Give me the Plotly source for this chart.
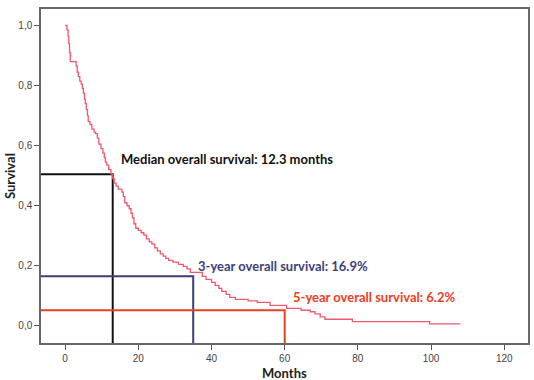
import plotly.graph_objects as go

# Kaplan-Meier step curve
months = [0, 0.5, 0.8, 1.0, 1.2, 1.4, 3.0, 3.3, 3.6, 4.0, 4.4, 4.7, 5.0, 5.3, 5.5, 5.8, 6.1, 6.3,
          6.8, 7.3, 7.9, 8.3, 8.8, 9.2, 9.8, 10.3, 10.7, 11.0, 11.4, 11.9, 12.5, 13.0, 13.4, 13.9,
          14.5, 15.5, 15.9, 16.3, 16.9, 17.5, 18.0, 18.4, 18.8, 19.3, 20.0, 20.8, 21.5, 22.2, 23.0,
          23.7, 24.5, 25.2, 26.0, 26.8, 27.5, 28.3, 29.5, 31.0, 32.3, 33.3, 34.2, 37.5, 38.5, 40.0,
          41.0, 42.0, 42.8, 44.0, 45.0, 46.5, 50.0, 52.5, 56.0, 60.5, 64.5, 67.0, 68.3, 69.7, 71.0,
          78.5, 99.6, 108.0]
survival = [1.0, 0.985, 0.965, 0.94, 0.91, 0.88, 0.865, 0.845, 0.83, 0.815, 0.805, 0.79, 0.775,
            0.755, 0.74, 0.72, 0.70, 0.68, 0.67, 0.655, 0.645, 0.64, 0.625, 0.605, 0.59, 0.575,
            0.56, 0.545, 0.535, 0.52, 0.505, 0.49, 0.475, 0.465, 0.455, 0.445, 0.43, 0.41, 0.40,
            0.39, 0.375, 0.36, 0.34, 0.325, 0.318, 0.31, 0.302, 0.29, 0.28, 0.272, 0.26, 0.25,
            0.24, 0.232, 0.225, 0.218, 0.212, 0.205, 0.198, 0.19, 0.178, 0.165, 0.155, 0.145,
            0.135, 0.125, 0.115, 0.105, 0.095, 0.088, 0.083, 0.078, 0.068, 0.058, 0.052, 0.047,
            0.040, 0.030, 0.022, 0.014, 0.007, 0.007]

# Reference lines (month drawn, survival level, label, colour)
ref_months = [13.0, 35.0, 60.0]
ref_surv = [0.505, 0.165, 0.052]
ref_labels = ["Median overall survival: 12.3 months",
              "3-year overall survival: 16.9%",
              "5-year overall survival: 6.2%"]
ref_colors = ["#111111", "#3d3f78", "#e8401f"]
label_pos = [(14.7, 0.556), (35.8, 0.198), (61.6, 0.095)]

x_ticks = [0, 20, 40, 60, 80, 100, 120]
y_ticks = [0.0, 0.2, 0.4, 0.6, 0.8, 1.0]
y_tick_text = ["0,0", "0,2", "0,4", "0,6", "0,8", "1,0"]

XMIN, XMAX = -6.6, 126.5
YMIN, YMAX = -0.057, 1.055

TITLE_FONT = dict(family="Lato, Open Sans, sans-serif", size=13, color="#222")
TICK_FONT = dict(family="Liberation Sans, Arial, sans-serif", size=10, color="#444")

fig = go.Figure()

for m, s, c in zip(ref_months, ref_surv, ref_colors):
    fig.add_trace(go.Scatter(x=[XMIN, m, m], y=[s, s, YMIN], mode="lines",
                             line=dict(color=c, width=2), hoverinfo="skip", showlegend=False))

fig.add_trace(go.Scatter(x=months, y=survival, mode="lines", line_shape="hv",
                         line=dict(color="#ec5a6e", width=1.3), showlegend=False))

for (lx, ly), t, c in zip(label_pos, ref_labels, ref_colors):
    fig.add_annotation(x=lx, y=ly, text="<b>" + t + "</b>", showarrow=False,
                       xanchor="left", yanchor="middle",
                       font=dict(family="Lato, Open Sans, sans-serif", size=13, color=c))

# Axis titles
fig.add_annotation(x=0.5, y=0.0, xref="paper", yref="paper", yshift=-30,
                   text="<b>Months</b>", showarrow=False, xanchor="center", yanchor="middle",
                   font=TITLE_FONT)
fig.add_annotation(x=0.0, y=0.5, xref="paper", yref="paper", xshift=-31,
                   text="<b>Survival</b>", showarrow=False, textangle=-90,
                   xanchor="center", yanchor="middle", font=TITLE_FONT)

fig.update_layout(
    width=534, height=380,
    margin=dict(l=41, r=6, t=9, b=37),
    plot_bgcolor="white", paper_bgcolor="white",
    font=TICK_FONT,
    xaxis=dict(range=[XMIN, XMAX], tickvals=x_ticks, ticks="outside", ticklen=5,
               tickcolor="#555", showline=True, linecolor="#666", linewidth=1.5, mirror=True,
               showgrid=False, zeroline=False, automargin=False, tickfont=TICK_FONT),
    yaxis=dict(range=[YMIN, YMAX], tickvals=y_ticks, ticktext=y_tick_text, ticks="outside",
               ticklen=5, tickcolor="#555", showline=True, linecolor="#666", linewidth=1.5,
               mirror=True, showgrid=False, zeroline=False, automargin=False, tickfont=TICK_FONT),
)

fig.write_html("out.html", config={"displayModeBar": False},
               post_script="document.body.style.margin='0';document.body.style.overflow='hidden';")
